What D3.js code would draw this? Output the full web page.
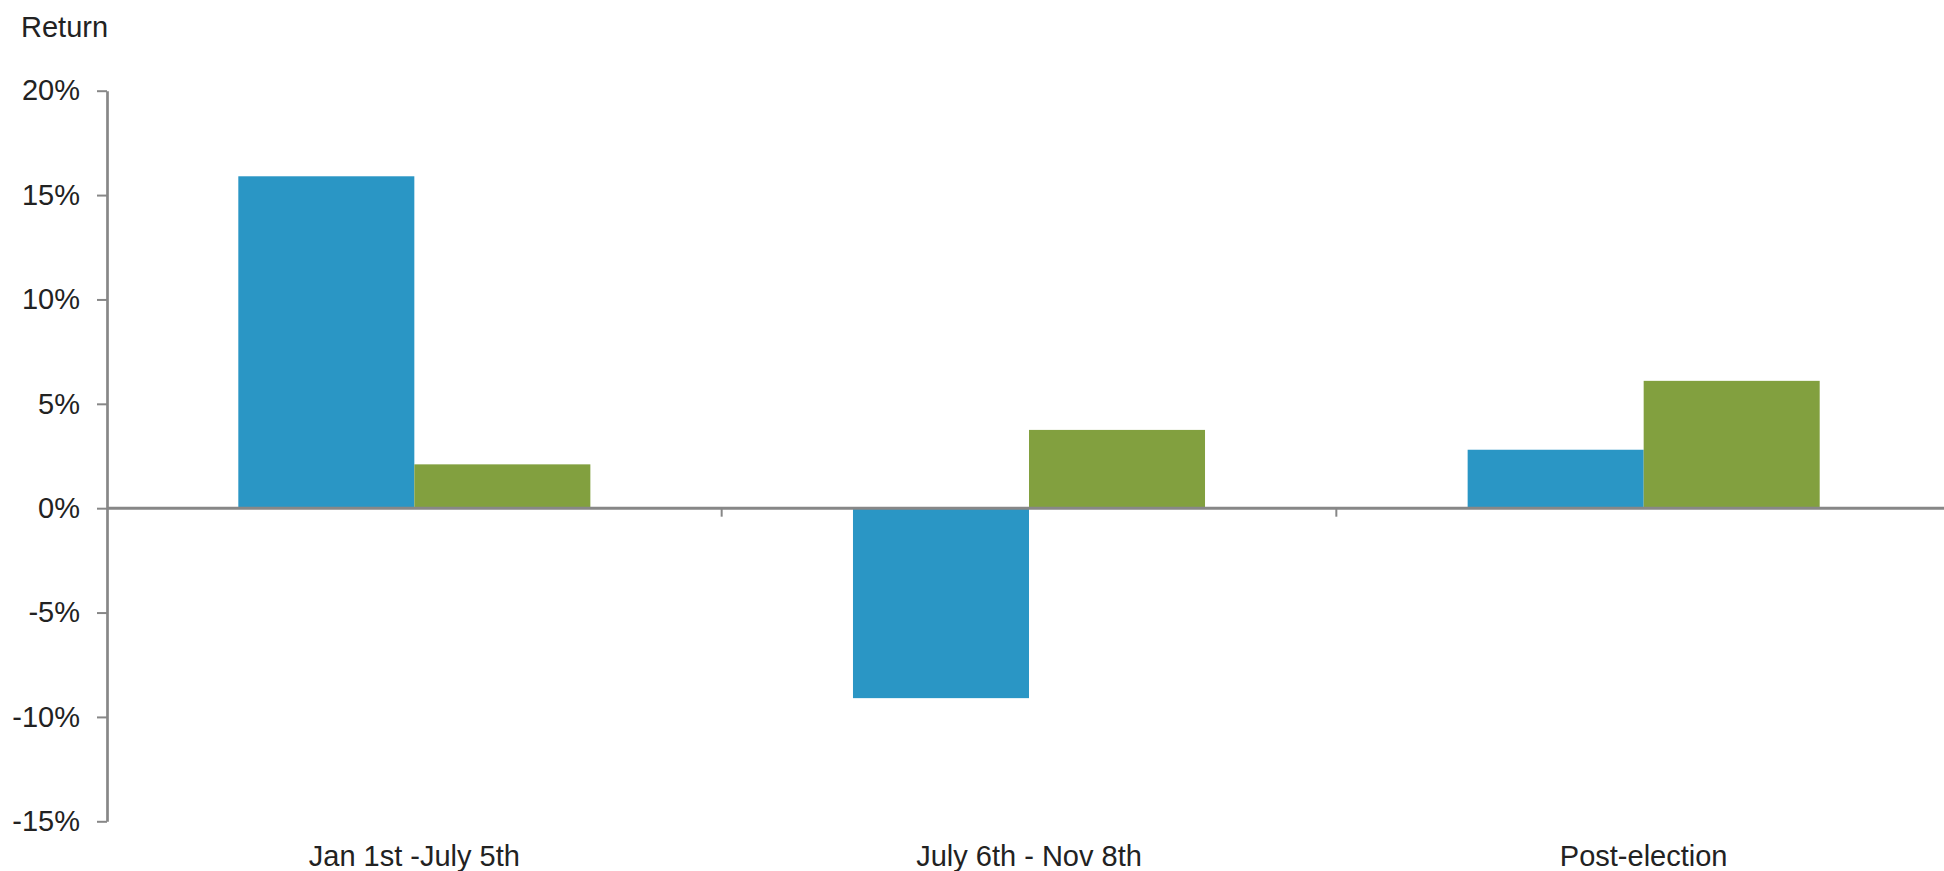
<!DOCTYPE html>
<html>
<head>
<meta charset="utf-8">
<script src="https://cdn.jsdelivr.net/npm/d3@7"></script>
<style>
  html, body { margin: 0; padding: 0; background: #fff; }
  svg { display: block; font-family: "Liberation Sans", Arial, sans-serif; }
</style>
</head>
<body>
<svg id="chart" width="1944" height="871"></svg>
<script>
// Period categories along the x axis
const categories = ["Jan 1st -July 5th", "July 6th - Nov 8th", "Post-election"];
// Returns (%) for the two series, one value per period
const seriesBlue = [15.9, -9.1, 2.8];
const seriesGreen = [2.1, 3.75, 6.1];
// Y axis tick values (%)
const yTicks = [20, 15, 10, 5, 0, -5, -10, -15];

const seriesKeys = ["blue", "green"];
const seriesColors = { blue: "#2A96C5", green: "#82A03F" };
const rows = categories.map((c, i) => ({ cat: c, blue: seriesBlue[i], green: seriesGreen[i] }));

const svg = d3.select("#chart");
const axisColor = "#878787";
const textColor = "#222222";

const x = d3.scaleBand().domain(categories).range([107, 1951]).paddingInner(0).paddingOuter(0);
const xInner = d3.scaleBand().domain(seriesKeys).range([0, x.bandwidth()]).paddingInner(0).paddingOuter(0.746);
const y = d3.scaleLinear().domain([-15, 20]).range([821.3, 90.7]);

// Bars
const groups = svg.append("g").selectAll("g")
  .data(rows).join("g")
  .attr("transform", d => `translate(${x(d.cat)},0)`);

groups.selectAll("rect")
  .data(d => seriesKeys.map(k => ({ key: k, value: d[k] })))
  .join("rect")
  .attr("x", d => xInner(d.key))
  .attr("width", xInner.bandwidth())
  .attr("y", d => y(Math.max(0, d.value)))
  .attr("height", d => Math.abs(y(d.value) - y(0)))
  .attr("fill", d => seriesColors[d.key]);

// Y axis
const yAxis = svg.append("g")
  .attr("transform", "translate(107,0)")
  .call(d3.axisLeft(y).tickValues(yTicks).tickFormat(d => d + "%").tickSize(10).tickSizeOuter(0).tickPadding(17));
yAxis.select(".domain").attr("stroke", axisColor).attr("stroke-width", 2.7);
yAxis.selectAll(".tick line").attr("stroke", axisColor).attr("stroke-width", 2);
yAxis.selectAll(".tick text")
  .attr("fill", textColor)
  .style("font-size", "29px")
  .style("font-family", "'Liberation Sans', Arial, sans-serif");

// Zero baseline with category separators
const zeroY = y(0);
svg.append("line")
  .attr("x1", 107).attr("x2", 1944)
  .attr("y1", zeroY).attr("y2", zeroY)
  .attr("stroke", axisColor).attr("stroke-width", 3);

svg.append("g").selectAll("line")
  .data(categories.slice(1)).join("line")
  .attr("x1", d => x(d)).attr("x2", d => x(d))
  .attr("y1", zeroY).attr("y2", zeroY + 8.5)
  .attr("stroke", axisColor).attr("stroke-width", 2);

// Category labels along the bottom
svg.append("g").selectAll("text")
  .data(categories).join("text")
  .attr("x", d => x(d) + x.bandwidth() / 2)
  .attr("y", 866)
  .attr("text-anchor", "middle")
  .attr("fill", textColor)
  .style("font-size", "29px")
  .text(d => d);

// Axis title
svg.append("text")
  .attr("x", 21)
  .attr("y", 37)
  .attr("fill", textColor)
  .style("font-size", "29px")
  .text("Return");
</script>
</body>
</html>
